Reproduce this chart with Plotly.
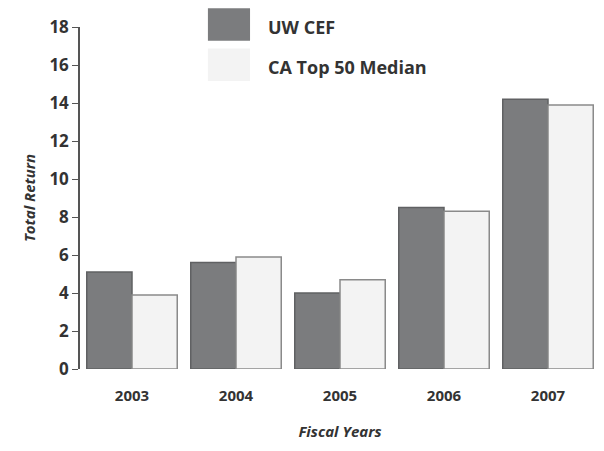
import plotly.graph_objects as go

years = ["2003", "2004", "2005", "2006", "2007"]
uw_cef = [5.1, 5.6, 4.0, 8.5, 14.2]
ca_top50 = [3.9, 5.9, 4.7, 8.3, 13.9]
series_names = ["UW CEF", "CA Top 50 Median"]
y_ticks = [0, 2, 4, 6, 8, 10, 12, 14, 16, 18]

dark = "#7b7c7e"
light = "#f3f3f3"
font_fam = "Open Sans, sans-serif"

fig = go.Figure()
fig.add_trace(go.Bar(x=years, y=uw_cef, name=series_names[0],
                     marker=dict(color=dark, line=dict(color="#606163", width=1.5))))
fig.add_trace(go.Bar(x=years, y=ca_top50, name=series_names[1],
                     marker=dict(color=light, line=dict(color="#8a8a8a", width=1.5))))

fig.update_layout(
    width=604, height=451,
    margin=dict(l=80, r=4, t=27, b=82),
    paper_bgcolor="white", plot_bgcolor="white",
    barmode="group", bargap=0.13, bargroupgap=0.0,
    showlegend=False,
    font=dict(family=font_fam, color="#3a3a3a"),
)
fig.update_yaxes(range=[0, 18], tickvals=y_ticks, showgrid=False, zeroline=False,
                 showline=True, linecolor="#555", linewidth=1.5,
                 ticks="outside", ticklen=6, tickcolor="#555",
                 tickfont=dict(size=17, family=font_fam, color="#333", weight="bold"),
                 title=dict(text="<i>Total Return</i>", font=dict(size=15, color="#333", weight="bold"), standoff=10))
fig.update_xaxes(showgrid=False, showline=False, ticks="", ticklabelstandoff=16,
                 tickfont=dict(size=15, family=font_fam, color="#333", weight="bold"),
                 title=dict(text="<i>Fiscal Years</i>", font=dict(size=15, color="#333", weight="bold"), standoff=22))

# custom legend
legend_items = [(series_names[0], dark), (series_names[1], light)]
for i, (name, col) in enumerate(legend_items):
    y0 = 1.055 - i * 0.118
    fig.add_shape(type="rect", xref="paper", yref="paper",
                  x0=0.246, x1=0.327, y0=y0 - 0.095, y1=y0,
                  fillcolor=col, line=dict(width=0))
    fig.add_annotation(xref="paper", yref="paper", x=0.357, y=y0 - 0.055,
                       text=name, showarrow=False, xanchor="left", yanchor="middle",
                       font=dict(size=18, color="#333", family=font_fam, weight="bold"))

fig.write_html("out.html")
